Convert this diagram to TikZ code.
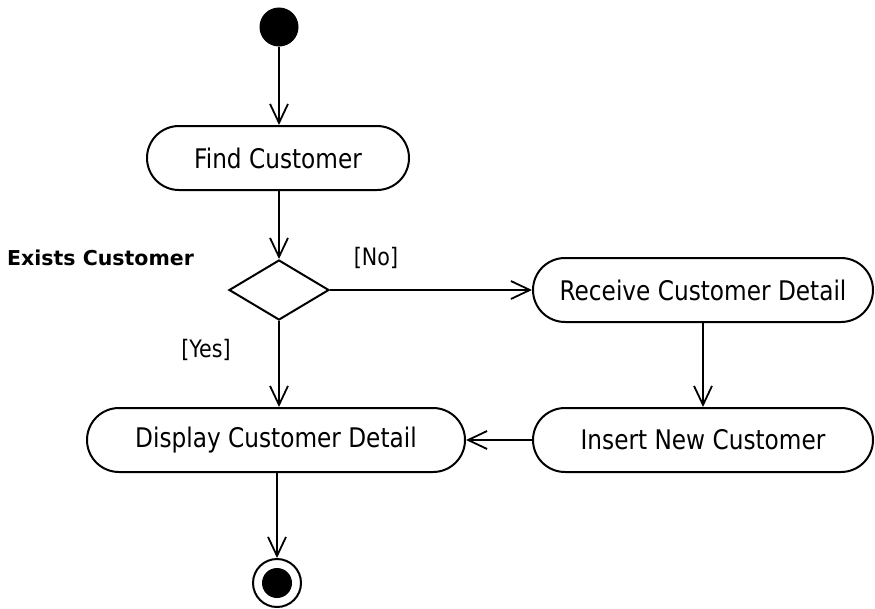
\documentclass[tikz,border=0pt]{standalone}
\usepackage{fontspec}
\setmainfont[FakeStretch=0.86]{DejaVu Sans}
\newfontfamily\boldlabel{DejaVu Sans Bold}
\usetikzlibrary{arrows.meta,shapes.geometric}
\begin{document}
\begin{tikzpicture}[x=1pt,y=-1pt,
  act/.style={draw,line width=2pt,rounded rectangle,minimum height=64pt,inner sep=0pt,font=\fontsize{27}{30}\selectfont},
  flow/.style={line width=1.8pt,-{Straight Barb[length=19pt,width=18pt,line width=1.8pt]}},
  guard/.style={font=\fontsize{24}{27}\selectfont,inner sep=0pt}]
\useasboundingbox (0,0) rectangle (875,608);
\tikzset{rounded rectangle/.style={rounded corners=32pt,rectangle}}
\node[circle,fill=black,draw,line width=1pt,minimum size=38pt,inner sep=0pt] (start) at (279,27) {};
\node[act,minimum width=262pt] (find) at (278,158) {Find Customer};
\node[draw,diamond,line width=2pt,minimum width=100pt,minimum height=60pt,inner sep=0pt,aspect=1.67] (dec) at (279,290) {};
\node[anchor=west,inner sep=0pt,font=\fontsize{20.5}{22}\selectfont\boldlabel] (exists) at (7,258) {Exists Customer};
\node[guard] (no) at (376,258) {[No]};
\node[guard] (yes) at (206,350) {[Yes]};
\node[act,minimum width=340pt] (recv) at (703,290) {Receive Customer Detail};
\node[act,minimum width=340pt] (ins) at (703,440) {Insert New Customer};
\node[act,minimum width=378pt] (disp) at (276,440) {Display Customer Detail};
\node[circle,draw,line width=2pt,minimum size=48pt,inner sep=0pt] (endo) at (277,583) {};
\node[circle,fill=black,minimum size=30pt,inner sep=0pt] (endi) at (277,583) {};
\draw[flow] (start) -- (start|-find.north);
\draw[flow] (find.south-|dec.north) -- (dec.north);
\draw[flow] (dec.east) -- (recv.west|-dec.east);
\draw[flow] (dec.south) -- (dec.south|-disp.north);
\draw[flow] (recv.south) -- (ins.north);
\draw[flow] (ins.west) -- (disp.east);
\draw[flow] (disp.south-|endo.north) -- (endo.north);
\end{tikzpicture}
\end{document}
